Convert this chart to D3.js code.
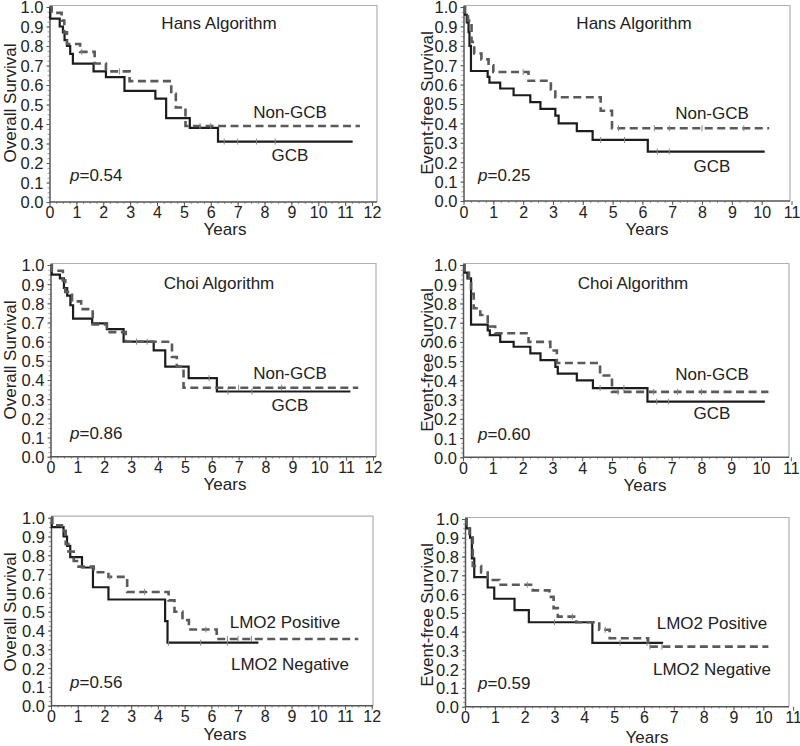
<!DOCTYPE html>
<html><head><meta charset="utf-8">
<script src="https://cdn.jsdelivr.net/npm/d3@7"></script>
<style>body{margin:0;background:#fff}svg{display:block}text{font-family:"Liberation Sans",Arial,sans-serif;fill:#222}</style>
</head><body><svg id="c" width="800" height="746"></svg>
<script>
// ---------- data ----------
const yTicks = [0,0.1,0.2,0.3,0.4,0.5,0.6,0.7,0.8,0.9,1.0];
const xTicks12 = [0,1,2,3,4,5,6,7,8,9,10,11,12];
const xTicks11 = [0,1,2,3,4,5,6,7,8,9,10,11];

// Panel A: Hans, overall survival
const hansOsGcbT = [0,0.03,0.38,0.5,0.56,0.65,0.77,0.87,1.64,2.1,2.79,3.94,4.34,5.22,6.27];
const hansOsGcbS = [1,0.94,0.90,0.87,0.83,0.80,0.76,0.71,0.67,0.64,0.57,0.53,0.43,0.38,0.31];
const hansOsGcbEnd = 11.28;
const hansOsNonT = [0,0.08,0.45,0.55,0.65,1.14,1.68,2.1,2.98,4.53,4.7,5.06];
const hansOsNonS = [1,0.97,0.93,0.87,0.81,0.77,0.71,0.67,0.62,0.555,0.485,0.39];
const hansOsNonEnd = 11.55;

// Panel B: Hans, event-free survival
const hansEfsGcbT = [0,0.05,0.11,0.17,0.2,0.25,0.81,0.87,1.23,1.68,2.24,2.58,3.08,3.19,3.8,4.33,6.18];
const hansEfsGcbS = [1,0.96,0.92,0.87,0.80,0.67,0.64,0.61,0.58,0.545,0.51,0.475,0.44,0.40,0.36,0.315,0.255];
const hansEfsGcbEnd = 10.1;
const hansEfsNonT = [0,0.05,0.15,0.27,0.36,0.6,0.84,1.0,2.18,2.93,3.08,4.6,4.98];
const hansEfsNonS = [1,0.96,0.93,0.82,0.76,0.73,0.70,0.665,0.62,0.575,0.535,0.465,0.375];
const hansEfsNonEnd = 10.25;

// Panel C: Choi, overall survival
const choiOsGcbT = [0,0.05,0.35,0.5,0.62,0.74,0.84,1.55,2.1,2.72,3.84,4.27,5.14,6.19];
const choiOsGcbS = [1,0.95,0.93,0.88,0.84,0.79,0.72,0.695,0.665,0.60,0.555,0.47,0.41,0.34];
const choiOsGcbEnd = 11.16;
const choiOsNonT = [0,0.05,0.46,0.55,0.8,1.14,1.57,2.1,2.8,4.52,4.7,4.95];
const choiOsNonS = [1,0.97,0.92,0.86,0.81,0.77,0.69,0.65,0.60,0.52,0.47,0.36];
const choiOsNonEnd = 11.45;

// Panel D: Choi, event-free survival
const choiEfsGcbT = [0,0.05,0.15,0.27,0.83,0.9,1.25,1.7,2.26,2.6,3.1,3.18,3.82,4.36,6.19];
const choiEfsGcbS = [1,0.96,0.93,0.69,0.66,0.635,0.60,0.575,0.54,0.505,0.47,0.435,0.40,0.36,0.29];
const choiEfsGcbEnd = 10.13;
const choiEfsNonT = [0,0.05,0.2,0.27,0.36,0.58,0.83,1.08,2.2,2.93,3.15,4.6,5.0];
const choiEfsNonS = [1,0.96,0.92,0.85,0.775,0.74,0.68,0.645,0.60,0.555,0.49,0.425,0.34];
const choiEfsNonEnd = 10.25;

// Panel E: LMO2, overall survival
const lmoOsNegT = [0,0.03,0.47,0.6,0.72,1.16,1.57,2.15,4.27,4.36];
const lmoOsNegS = [1,0.95,0.90,0.85,0.79,0.735,0.63,0.565,0.45,0.335];
const lmoOsNegEnd = 7.76;
const lmoOsPosT = [0,0.05,0.41,0.55,0.65,0.85,1.03,1.6,2.15,2.85,4.4,4.62,4.92,5.16,6.2];
const lmoOsPosS = [1,0.96,0.93,0.86,0.82,0.77,0.74,0.71,0.685,0.605,0.56,0.50,0.455,0.405,0.355];
const lmoOsPosEnd = 11.5;

// Panel F: LMO2, event-free survival
const lmoEfsNegT = [0,0.05,0.17,0.23,0.31,0.76,0.98,1.66,2.14,4.27];
const lmoEfsNegS = [1,0.95,0.90,0.79,0.69,0.635,0.575,0.515,0.45,0.34];
const lmoEfsNegEnd = 6.64;
const lmoEfsPosT = [0,0.05,0.15,0.26,0.54,0.76,1.15,2.27,2.83,2.97,3.11,3.73,4.5,4.85,6.14];
const lmoEfsPosS = [1,0.96,0.92,0.75,0.715,0.675,0.65,0.62,0.585,0.525,0.48,0.45,0.41,0.365,0.32];
const lmoEfsPosEnd = 10.17;

// censor marks (times)
const hansOsGcbC = [6.5,7.0,7.7,8.4];
const hansOsNonC = [1.2,2.6,5.6,6.0];
const hansEfsGcbC = [4.6,5.4,6.5,6.9];
const hansEfsNonC = [2.0,5.2,6.4,6.9,8.0,9.4];
const choiOsGcbC = [5.9,6.6,7.5];
const choiOsNonC = [3.2,3.6,7.0,8.6];
const choiEfsGcbC = [4.6,5.4,6.5,6.9];
const choiEfsNonC = [5.2,6.4,7.2,8.0];
const lmoOsNegC = [4.4,5.6,6.6];
const lmoOsPosC = [2.2,3.5,5.8,6.6,7.0,7.5];
const lmoEfsNegC = [3.0,5.2,6.1];
const lmoEfsPosC = [2.1,3.6,4.7,6.2,6.6];

const pValues = ["0.54","0.25","0.86","0.60","0.56","0.59"];
const yTitles = ["Overall Survival","Event-free Survival","Overall Survival","Event-free Survival","Overall Survival","Event-free Survival"];
const panelTitles = ["Hans Algorithm","Hans Algorithm","Choi Algorithm","Choi Algorithm","",""];
const labelSolid = ["GCB","GCB","GCB","GCB","LMO2 Negative","LMO2 Negative"];
const labelDashed = ["Non-GCB","Non-GCB","Non-GCB","Non-GCB","LMO2 Positive","LMO2 Positive"];

// ---------- layout ----------
const layout = [
 {x0:49.5, x1:372, xmax:12, xr:377, y0:202, y1:7, ticks:xTicks12, title:[219,23], solidL:[290,155], dashL:[290,112], p:[70,175], yt:[10,103], years:[225,229], xl:212},
 {x0:463.5,x1:761.7,xmax:10, xr:790, y0:201, y1:7, ticks:xTicks11, title:[634,23], solidL:[712,166], dashL:[712,113], p:[478,175], yt:[427,103], years:[647,229], xl:212.5},
 {x0:50.5, x1:373, xmax:12, xr:376, y0:456.7,y1:265, ticks:xTicks12, title:[219,283], solidL:[290,405], dashL:[290,373], p:[70,433], yt:[10,360], years:[225,484], xl:467.5},
 {x0:463, x1:761, xmax:10, xr:789, y0:457.3,y1:265, ticks:xTicks11, title:[633,283], solidL:[712,413], dashL:[712,374], p:[478,434], yt:[427,360], years:[645,485], xl:468},
 {x0:51, x1:371.7,xmax:12, xr:373, y0:705.7,y1:517.7, ticks:xTicks12, title:[0,0], solidL:[290,664], dashL:[285,622], p:[70,682], yt:[10,612], years:[225,734], xl:716.5},
 {x0:465, x1:763.3,xmax:10, xr:789, y0:706.7,y1:519, ticks:xTicks11, title:[0,0], solidL:[712,669], dashL:[712,623], p:[478,683], yt:[427,615], years:[647,737], xl:717.5}
];

const series = [
 [[hansOsGcbT,hansOsGcbS,hansOsGcbEnd,hansOsGcbC],[hansOsNonT,hansOsNonS,hansOsNonEnd,hansOsNonC]],
 [[hansEfsGcbT,hansEfsGcbS,hansEfsGcbEnd,hansEfsGcbC],[hansEfsNonT,hansEfsNonS,hansEfsNonEnd,hansEfsNonC]],
 [[choiOsGcbT,choiOsGcbS,choiOsGcbEnd,choiOsGcbC],[choiOsNonT,choiOsNonS,choiOsNonEnd,choiOsNonC]],
 [[choiEfsGcbT,choiEfsGcbS,choiEfsGcbEnd,choiEfsGcbC],[choiEfsNonT,choiEfsNonS,choiEfsNonEnd,choiEfsNonC]],
 [[lmoOsNegT,lmoOsNegS,lmoOsNegEnd,lmoOsNegC],[lmoOsPosT,lmoOsPosS,lmoOsPosEnd,lmoOsPosC]],
 [[lmoEfsNegT,lmoEfsNegS,lmoEfsNegEnd,lmoEfsNegC],[lmoEfsPosT,lmoEfsPosS,lmoEfsPosEnd,lmoEfsPosC]]
];

const svg = d3.select("#c");
function survAt(T,S,t){let v=S[0];for(let i=0;i<T.length;i++){if(T[i]<=t)v=S[i];}return v;}

layout.forEach((L,i)=>{
  const x = d3.scaleLinear().domain([0,L.xmax]).range([L.x0,L.x1]);
  const y = d3.scaleLinear().domain([0,1]).range([L.y0,L.y1]);
  const g = svg.append("g");
  g.append("path").attr("d",`M${L.x0},${y(1)-1.5}H${L.xr}V${L.y0}`)
    .attr("fill","none").attr("stroke","#b0b0b0").attr("stroke-width",1.2);
  const minorX = d3.range(0, L.xmax+0.001, 0.25);
  g.append("g").attr("transform",`translate(0,${L.y0})`)
    .call(d3.axisBottom(x).tickValues(minorX).tickSize(2).tickFormat(""))
    .call(s=>{s.select(".domain").remove();s.selectAll("line").attr("stroke","#999");});
  g.append("g").attr("transform",`translate(${L.x0},0)`)
    .call(d3.axisLeft(y).tickValues(d3.range(0,1.001,0.025)).tickSize(2).tickFormat(""))
    .call(s=>{s.select(".domain").remove();s.selectAll("line").attr("stroke","#999");});
  const ax = g.append("g").attr("transform",`translate(0,${L.y0})`)
    .call(d3.axisBottom(x).tickValues(L.ticks).tickSize(4).tickPadding(3).tickSizeOuter(0));
  ax.select(".domain").attr("d",`M${L.x0},0H${L.xr}`).attr("stroke","#555").attr("stroke-width",1.5);
  ax.selectAll("line").attr("stroke","#555");
  ax.selectAll("text").attr("font-size",16).attr("fill","#222").attr("dy",null)
    .attr("y",L.xl-L.y0+5.7);
  const ay = g.append("g").attr("transform",`translate(${L.x0},0)`)
    .call(d3.axisLeft(y).tickValues(yTicks).tickFormat(d3.format(".1f")).tickSize(3).tickPadding(3).tickSizeOuter(0));
  ay.select(".domain").attr("stroke","#555").attr("stroke-width",1.5);
  ay.selectAll("line").attr("stroke","#555");
  ay.selectAll("text").attr("font-size",16.5).attr("fill","#222").attr("dy","0.36em");
  const line = d3.line().x(d=>x(d[0])).y(d=>y(d[1])).curve(d3.curveStepAfter);
  series[i].forEach((sr,k)=>{
    const [T,S,end,C] = sr;
    const pts = T.map((t,j)=>[t,S[j]]); pts.push([end,S[S.length-1]]);
    g.append("path").datum(pts).attr("d",line).attr("fill","none")
      .attr("stroke",k===0?"#1c1c1c":"#5a5a5a").attr("stroke-width",k===0?2.2:2.6)
      .attr("stroke-dasharray",k===0?null:"8,4.5");
    g.selectAll(null).data(C).join("line")
      .attr("x1",d=>x(d)).attr("x2",d=>x(d))
      .attr("y1",d=>y(survAt(T,S,d))-3).attr("y2",d=>y(survAt(T,S,d))+3)
      .attr("stroke","#888").attr("stroke-width",1);
  });
  if(panelTitles[i]) g.append("text").attr("x",L.title[0]).attr("y",L.title[1]).attr("dy","0.36em")
    .attr("text-anchor","middle").attr("font-size",17).text(panelTitles[i]);
  g.append("text").attr("x",L.dashL[0]).attr("y",L.dashL[1]).attr("dy","0.36em")
    .attr("text-anchor","middle").attr("font-size",17).text(labelDashed[i]);
  g.append("text").attr("x",L.solidL[0]).attr("y",L.solidL[1]).attr("dy","0.36em")
    .attr("text-anchor","middle").attr("font-size",17).text(labelSolid[i]);
  const pt = g.append("text").attr("x",L.p[0]).attr("y",L.p[1]).attr("dy","0.36em").attr("font-size",17);
  pt.append("tspan").attr("font-style","italic").text("p");
  pt.append("tspan").text("="+pValues[i]);
  g.append("text").attr("transform",`translate(${L.yt[0]},${L.yt[1]}) rotate(-90)`).attr("dy","0.36em")
    .attr("text-anchor","middle").attr("font-size",17).text(yTitles[i]);
  g.append("text").attr("x",L.years[0]).attr("y",L.years[1]).attr("dy","0.36em")
    .attr("text-anchor","middle").attr("font-size",17).text("Years");
});
</script></body></html>
